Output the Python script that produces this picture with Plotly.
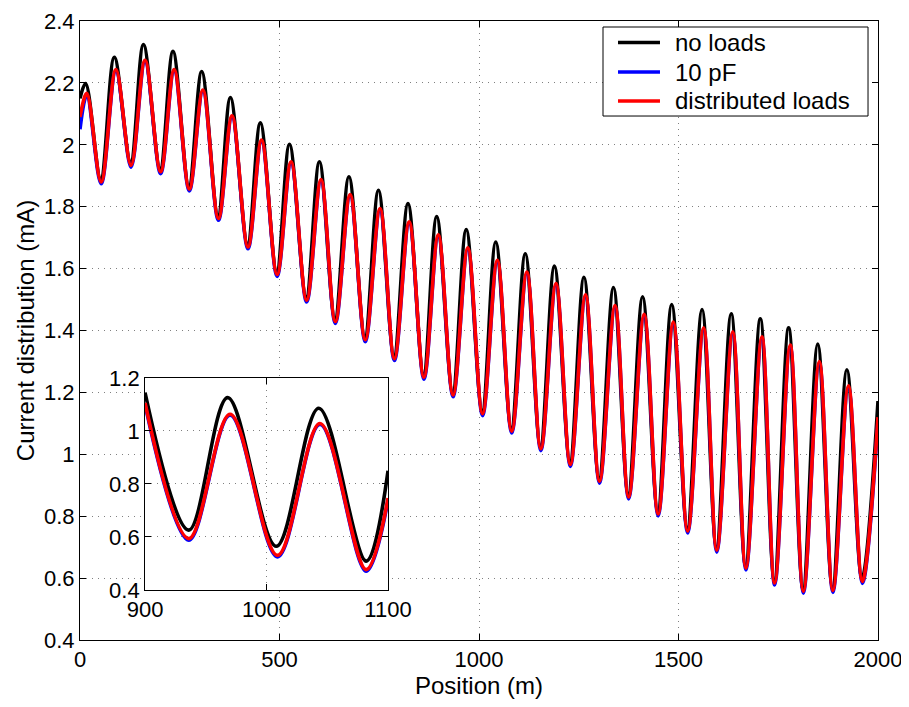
import plotly.graph_objects as go

# ---------------- data ----------------
# main chart: extremes of each curve (position in m, current in mA)
black_peak_x = [14, 86, 159, 233, 305, 377, 452, 525, 600, 674, 748, 822, 894, 968, 1042,
                1116, 1189, 1263, 1337, 1410, 1483, 1559, 1632, 1705, 1776, 1849, 1922]
black_peak_y = [2.198, 2.283, 2.324, 2.302, 2.237, 2.153, 2.071, 2.002, 1.945, 1.897, 1.853,
                1.810, 1.768, 1.726, 1.686, 1.648, 1.608, 1.572, 1.539, 1.509, 1.484, 1.468,
                1.454, 1.438, 1.409, 1.356, 1.273]
black_trough_x = [52, 127, 201, 273, 346, 420, 493, 567, 639, 714, 787, 861, 934, 1008, 1081,
                  1154, 1228, 1301, 1374, 1448, 1522, 1595, 1668, 1740, 1812, 1886, 1960]
black_trough_y = [1.890, 1.944, 1.923, 1.867, 1.772, 1.680, 1.591, 1.508, 1.439, 1.380, 1.319,
                  1.259, 1.202, 1.141, 1.085, 1.028, 0.977, 0.923, 0.872, 0.817, 0.762, 0.700,
                  0.642, 0.594, 0.567, 0.570, 0.599]
black_ends = [(0, 2.15), (2000, 1.172)]

red_peak_x = [17, 90, 163, 236, 308, 381, 455, 529, 604, 677, 752, 825, 898, 972, 1046,
              1120, 1193, 1267, 1341, 1414, 1487, 1563, 1636, 1709, 1780, 1853, 1926]
red_peak_y = [2.166, 2.243, 2.273, 2.243, 2.177, 2.094, 2.015, 1.945, 1.888, 1.839, 1.794,
              1.751, 1.709, 1.667, 1.627, 1.589, 1.552, 1.515, 1.481, 1.452, 1.427, 1.409,
              1.396, 1.380, 1.353, 1.300, 1.221]
red_trough_x = [53, 128, 202, 274, 347, 421, 494, 568, 640, 715, 788, 862, 935, 1009, 1082,
                1155, 1229, 1302, 1375, 1449, 1523, 1596, 1669, 1741, 1813, 1887, 1961]
red_trough_y = [1.880, 1.934, 1.913, 1.857, 1.762, 1.670, 1.581, 1.498, 1.429, 1.370, 1.309,
                1.249, 1.192, 1.131, 1.075, 1.018, 0.967, 0.913, 0.862, 0.807, 0.752, 0.690,
                0.632, 0.584, 0.557, 0.560, 0.589]
red_ends = [(0, 2.09), (2000, 1.12)]

blue_peak_y = [2.160, 2.238, 2.268, 2.238, 2.172, 2.089, 2.010, 1.940, 1.883, 1.834, 1.789,
               1.746, 1.704, 1.662, 1.622, 1.584, 1.547, 1.510, 1.476, 1.447, 1.422, 1.404,
               1.391, 1.375, 1.348, 1.295, 1.216]
blue_trough_y = [1.874, 1.928, 1.907, 1.851, 1.756, 1.664, 1.575, 1.492, 1.423, 1.364, 1.303,
                 1.243, 1.186, 1.125, 1.069, 1.012, 0.961, 0.907, 0.856, 0.801, 0.746, 0.684,
                 0.626, 0.578, 0.551, 0.554, 0.583]
blue_ends = [(0, 2.05), (2000, 1.11)]

# inset (900-1100 m)
inset_black_x = [900, 936, 968, 1008, 1043, 1082, 1100]
inset_black_y = [1.145, 0.626, 1.126, 0.565, 1.086, 0.509, 0.850]
inset_red_x = [900, 936, 970, 1009, 1044, 1082, 1100]
inset_red_y = [1.106, 0.594, 1.063, 0.531, 1.028, 0.477, 0.747]
inset_blue_y = [1.100, 0.588, 1.060, 0.525, 1.025, 0.471, 0.740]

x_ticks = [0, 500, 1000, 1500, 2000]
y_ticks = [0.4, 0.6, 0.8, 1.0, 1.2, 1.4, 1.6, 1.8, 2.0, 2.2, 2.4]
y_tick_text = ["0.4", "0.6", "0.8", "1", "1.2", "1.4", "1.6", "1.8", "2", "2.2", "2.4"]
inset_x_ticks = [900, 1000, 1100]
inset_y_ticks = [0.4, 0.6, 0.8, 1.0, 1.2]
inset_y_text = ["0.4", "0.6", "0.8", "1", "1.2"]

names = ["no loads", "10 pF", "distributed loads"]
colors = ["#000000", "#0000ff", "#ff0000"]


def merge(px, py, tx, ty, ends):
    pts = list(zip(px, py)) + list(zip(tx, ty)) + list(ends)
    pts.sort(key=lambda p: p[0])
    return [p[0] for p in pts], [p[1] for p in pts]


series = [
    merge(black_peak_x, black_peak_y, black_trough_x, black_trough_y, black_ends),
    merge(red_peak_x, blue_peak_y, red_trough_x, blue_trough_y, blue_ends),
    merge(red_peak_x, red_peak_y, red_trough_x, red_trough_y, red_ends),
]
inset_series = [
    (inset_black_x, inset_black_y),
    (inset_red_x, inset_blue_y),
    (inset_red_x, inset_red_y),
]

FONT = "Liberation Sans, Arial, Helvetica, sans-serif"
TICK = 22
LW = 3.6

fig = go.Figure()
for (xs, ys), n, c in zip(series, names, colors):
    fig.add_trace(go.Scatter(x=xs, y=ys, mode="lines", name=n, showlegend=False,
                             line=dict(color=c, width=LW, shape="spline", smoothing=1.0),
                             xaxis="x", yaxis="y"))
for (xs, ys), n, c in zip(inset_series, names, colors):
    fig.add_trace(go.Scatter(x=xs, y=ys, mode="lines", name=n, showlegend=False,
                             line=dict(color=c, width=LW, shape="spline", smoothing=1.0),
                             xaxis="x2", yaxis="y2"))

axis_common = dict(showline=True, linecolor="black", linewidth=1, mirror="ticks",
                   ticks="inside", ticklen=6, tickcolor="black", zeroline=False,
                   showgrid=True, gridcolor="#808080", griddash="1px,5px", gridwidth=1,
                   automargin=False, ticklabeloverflow="allow",
                   tickfont=dict(family=FONT, size=TICK, color="black"))

fig.update_layout(
    width=909, height=707,
    margin=dict(l=72, r=39, t=13, b=75),
    paper_bgcolor="white", plot_bgcolor="white",
    font=dict(family=FONT, size=TICK, color="black"),
    xaxis=dict(domain=[0, 1], range=[0, 2000], tickvals=x_ticks,
               title=dict(text="Position (m)", standoff=2, font=dict(family=FONT, size=24)),
               **axis_common),
    yaxis=dict(domain=[0, 1], range=[0.4, 2.4], tickvals=y_ticks, ticktext=y_tick_text,
               title=dict(text="Current distribution (mA)", standoff=2,
                          font=dict(family=FONT, size=24)),
               **axis_common),
    xaxis2=dict(domain=[0.0815, 0.386], range=[900, 1100], tickvals=inset_x_ticks,
                anchor="y2", **axis_common),
    yaxis2=dict(domain=[0.0808, 0.4233], range=[0.4, 1.2], tickvals=inset_y_ticks,
                ticktext=inset_y_text, anchor="x2", **axis_common),
    showlegend=False,
)

# inset white background
fig.add_shape(type="rect", xref="x2 domain", yref="y2 domain", x0=0, x1=1, y0=0, y1=1,
              fillcolor="white", line=dict(width=0), layer="below")

# legend box (MATLAB style) drawn in axes-domain coordinates
fig.add_shape(type="rect", xref="x domain", yref="y domain",
              x0=0.6554, x1=0.9875, y0=0.8465, y1=0.9903,
              fillcolor="white", line=dict(color="black", width=1), layer="above")
legend_rows = [0.9653, 0.9176, 0.8708]
for n, c, yy in zip(names, colors, legend_rows):
    fig.add_shape(type="line", xref="x domain", yref="y domain",
                  x0=0.6742, x1=0.7268, y0=yy, y1=yy,
                  line=dict(color=c, width=LW), layer="above")
    fig.add_annotation(xref="x domain", yref="y domain", x=0.7435, y=yy,
                       xanchor="left", yanchor="middle", text=n, showarrow=False,
                       font=dict(family=FONT, size=24, color="black"))

fig.write_html("out.html")
